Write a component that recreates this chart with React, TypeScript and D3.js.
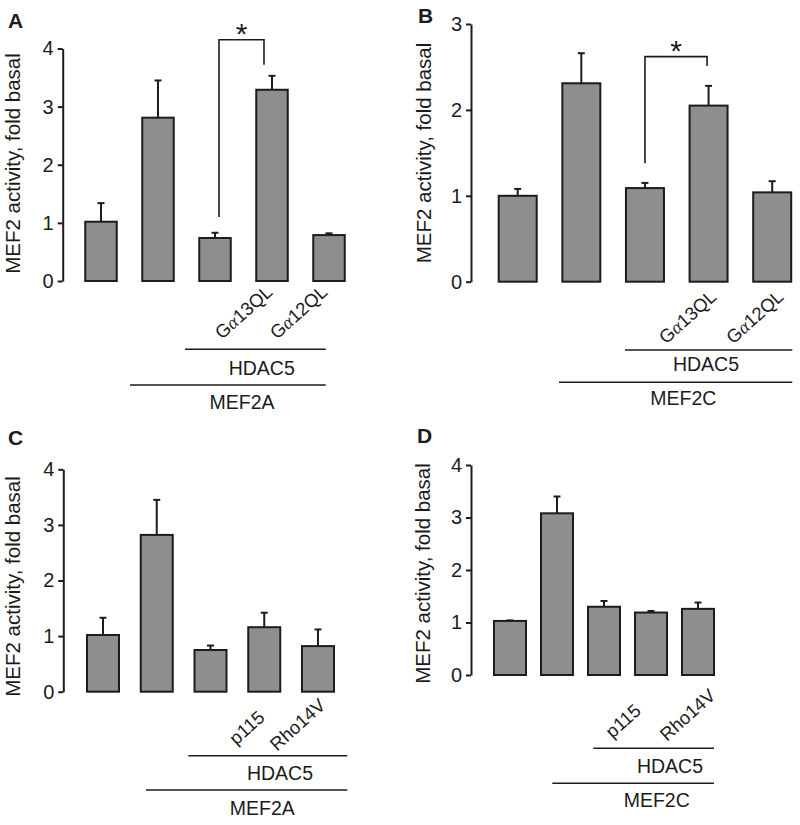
import React, { useEffect, useRef } from 'react';
import * as d3 from 'd3';

const FONT = '"Liberation Sans", Arial, Helvetica, sans-serif';

// five conditions per panel (bar order)
const conditions = ['basal', 'MEF2', 'MEF2+HDAC5', 'MEF2+HDAC5+X', 'MEF2+HDAC5+Y'];

// panel A: MEF2A, Galpha13QL / Galpha12QL
const meansA = [1.02, 2.81, 0.74, 3.29, 0.79];
const errA = [0.32, 0.64, 0.09, 0.24, 0.03];
// panel B: MEF2C, Galpha13QL / Galpha12QL
const meansB = [1.0, 2.31, 1.09, 2.05, 1.04];
const errB = [0.08, 0.35, 0.06, 0.23, 0.13];
// panel C: MEF2A, p115 / Rho14V
const meansC = [1.02, 2.82, 0.75, 1.16, 0.82];
const errC = [0.31, 0.63, 0.08, 0.26, 0.3];
// panel D: MEF2C, p115 / Rho14V
const meansD = [1.03, 3.08, 1.3, 1.19, 1.26];
const errD = [0.01, 0.32, 0.11, 0.03, 0.12];

const gLabels = ['Gα13QL', 'Gα12QL'];
const rhoLabels = ['p115', 'Rho14V'];

type Panel = {
  letter: string;
  means: number[];
  errs: number[];
  yMax: number;
  axisX: number;
  yTop: number;
  y0: number;
  xFirst: number;
  xLast: number;
  barW: number;
  letterPos: [number, number];
  yLabelPos: [number, number];
  rot: string[];
  rotOff: [number, number][];
  hdac: { y: number; x1: number; x2: number; tx: number; ty: number };
  mef: { label: string; y: number; x1: number; x2: number; tx: number; ty: number };
  bracket?: { left: number; top: number; right: number; dl: number; dr: number };
};

const panels: Panel[] = [
  {
    letter: 'A', means: meansA, errs: errA, yMax: 4,
    axisX: 62.7, yTop: 48.5, y0: 281, xFirst: 101, xLast: 329, barW: 31.5,
    letterPos: [8, 28], yLabelPos: [20, 163.5],
    rot: gLabels, rotOff: [[-50, 59], [-52, 59]],
    hdac: { y: 349.3, x1: 185, x2: 325.7, tx: 261.7, ty: 375 },
    mef: { label: 'MEF2A', y: 385, x1: 130, x2: 325.7, tx: 242, ty: 409 },
    bracket: { left: 1.1, top: 4.15, right: 3.72, dl: 4, dr: -8 },
  },
  {
    letter: 'B', means: meansB, errs: errB, yMax: 3,
    axisX: 471, yTop: 24, y0: 281.7, xFirst: 517.7, xLast: 772.2, barW: 38,
    letterPos: [418, 23], yLabelPos: [431, 153],
    rot: gLabels, rotOff: [[-42.5, 63], [-39, 63]],
    hdac: { y: 350, x1: 625, x2: 792.3, tx: 706, ty: 370.7 },
    mef: { label: 'MEF2C', y: 382.3, x1: 559, x2: 792.3, tx: 683.3, ty: 405 },
    bracket: { left: 1.38, top: 2.62, right: 2.51, dl: 0, dr: -1.5 },
  },
  {
    letter: 'C', means: meansC, errs: errC, yMax: 4,
    axisX: 63.3, yTop: 469.3, y0: 691.7, xFirst: 103, xLast: 318, barW: 32,
    letterPos: [8, 445], yLabelPos: [20, 586.5],
    rot: rhoLabels, rotOff: [[-28, 54], [-41, 60]],
    hdac: { y: 755.7, x1: 188.3, x2: 347.3, tx: 280, ty: 780 },
    mef: { label: 'MEF2A', y: 790, x1: 146, x2: 347.3, tx: 262.3, ty: 815 },
  },
  {
    letter: 'D', means: meansD, errs: errD, yMax: 4,
    axisX: 471, yTop: 465, y0: 675, xFirst: 510, xLast: 698, barW: 32,
    letterPos: [417, 443], yLabelPos: [430, 573.5],
    rot: rhoLabels, rotOff: [[-38.5, 64], [-31, 67]],
    hdac: { y: 748.3, x1: 593.3, x2: 714, tx: 670, ty: 772.7 },
    mef: { label: 'MEF2C', y: 783.3, x1: 552.3, x2: 714, tx: 656.7, ty: 806.7 },
  },
];

const INK = '#1c1c1c';

function drawPanel(svg: any, p: Panel) {
  const g = svg.append('g').attr('font-family', FONT);

  const y = d3.scaleLinear().domain([0, p.yMax]).range([p.y0, p.yTop]);
  const x = d3.scalePoint<string>().domain(conditions).range([p.xFirst, p.xLast]);

  // y axis
  const axis = d3.axisLeft(y)
    .tickValues(d3.range(0, p.yMax + 1))
    .tickFormat(d3.format('d'))
    .tickSize(5)
    .tickSizeOuter(0)
    .tickPadding(4);
  const ag = g.append('g').attr('transform', `translate(${p.axisX},0)`).call(axis);
  ag.attr('font-size', 20).attr('font-family', FONT);
  ag.select('.domain').attr('stroke', INK).attr('stroke-width', 2);
  ag.selectAll('.tick line').attr('stroke', INK).attr('stroke-width', 2);
  ag.selectAll('.tick text').attr('fill', INK);

  // panel letter
  g.append('text')
    .attr('x', p.letterPos[0]).attr('y', p.letterPos[1])
    .attr('font-size', 21).attr('font-weight', 'bold').attr('fill', INK)
    .text(p.letter);

  // y axis title
  g.append('text')
    .attr('transform', `translate(${p.yLabelPos[0]},${p.yLabelPos[1]}) rotate(-90)`)
    .attr('text-anchor', 'middle').attr('font-size', 20.5).attr('fill', INK)
    .text('MEF2 activity, fold basal');

  // bars
  g.selectAll('rect.bar').data(p.means).join('rect')
    .attr('class', 'bar')
    .attr('x', (d: number, i: number) => (x(conditions[i]) as number) - p.barW / 2)
    .attr('y', (d: number) => y(d))
    .attr('width', p.barW)
    .attr('height', (d: number) => y(0) - y(d))
    .attr('fill', '#8e8e8e')
    .attr('stroke', INK)
    .attr('stroke-width', 2);

  // error bars (upper only)
  const eb = g.selectAll('g.err').data(p.means).join('g').attr('class', 'err')
    .attr('stroke', INK).attr('stroke-width', 2);
  eb.append('line')
    .attr('x1', (d: number, i: number) => x(conditions[i]) as number)
    .attr('x2', (d: number, i: number) => x(conditions[i]) as number)
    .attr('y1', (d: number) => y(d))
    .attr('y2', (d: number, i: number) => y(d + p.errs[i]));
  eb.append('line')
    .attr('x1', (d: number, i: number) => (x(conditions[i]) as number) - 3.5)
    .attr('x2', (d: number, i: number) => (x(conditions[i]) as number) + 3.5)
    .attr('y1', (d: number, i: number) => y(d + p.errs[i]))
    .attr('y2', (d: number, i: number) => y(d + p.errs[i]));

  // significance bracket
  if (p.bracket) {
    const b = p.bracket;
    const xl = (x(conditions[2]) as number) + b.dl;
    const xr = (x(conditions[3]) as number) + b.dr;
    g.append('path')
      .attr('d', `M${xl},${y(b.left)}V${y(b.top)}H${xr}V${y(b.right)}`)
      .attr('fill', 'none').attr('stroke', INK).attr('stroke-width', 1.6);
    g.append('text')
      .attr('x', (xl + xr) / 2).attr('y', y(b.top) + 4)
      .attr('text-anchor', 'middle').attr('font-size', 30).attr('fill', INK)
      .text('*');
  }

  // rotated treatment labels under bars 4 and 5
  p.rot.forEach((lab, k) => {
    const cx = x(conditions[3 + k]) as number;
    const [dx, dy] = p.rotOff[k];
    const t = g.append('text')
      .attr('transform', `translate(${cx + dx},${p.y0 + dy}) rotate(-42)`)
      .attr('text-anchor', 'start').attr('font-size', 18.5).attr('fill', INK);
    if (lab.startsWith('Gα')) {
      t.append('tspan').text('G');
      t.append('tspan').attr('font-family', '"Liberation Serif", serif').attr('font-style', 'italic').text('α');
      t.append('tspan').text(lab.slice(2));
    } else {
      t.text(lab);
    }
  });

  // grouping lines
  const lines = [
    { ...p.hdac, label: 'HDAC5' },
    p.mef,
  ];
  lines.forEach(l => {
    g.append('line')
      .attr('x1', l.x1).attr('x2', l.x2).attr('y1', l.y).attr('y2', l.y)
      .attr('stroke', INK).attr('stroke-width', 1.6);
    g.append('text')
      .attr('x', l.tx).attr('y', l.ty)
      .attr('text-anchor', 'middle').attr('font-size', 19.5).attr('fill', INK)
      .text(l.label);
  });
}

export default function App() {
  const ref = useRef<SVGSVGElement>(null);

  useEffect(() => {
    const svg = d3.select(ref.current);
    svg.selectAll('*').remove();
    panels.forEach(p => drawPanel(svg, p));
  }, []);

  return (
    <svg
      ref={ref}
      width={800}
      height={825}
      style={{ position: 'absolute', left: 0, top: 0, background: '#fff' }}
    />
  );
}
